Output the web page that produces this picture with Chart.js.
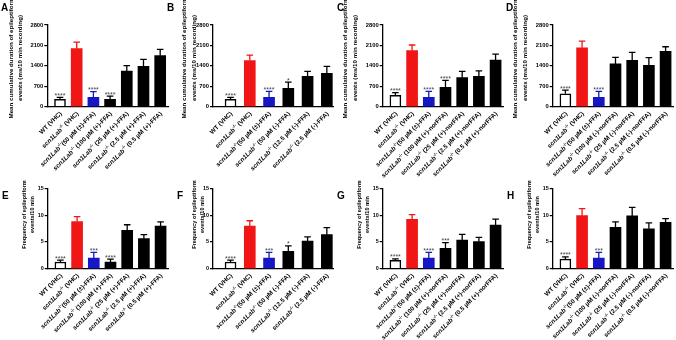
<!DOCTYPE html>
<html>
<head>
<meta charset="utf-8">
<script src="https://cdn.jsdelivr.net/npm/chart.js@4.4.1/dist/chart.umd.min.js"></script>
<style>
  body { margin: 0; background: #fff; }
  #wrap { position: relative; width: 676px; height: 340px; overflow: hidden; }
  #wrap canvas { position: absolute; left: 0; top: 0; }
  .tag { position: absolute; font: bold 10px "Liberation Sans", Arial, sans-serif; line-height: 10px; color: #000; }
</style>
</head>
<body>
<div id="wrap">
  <canvas id="cA" width="676" height="340"></canvas>
  <canvas id="cB" width="676" height="340"></canvas>
  <canvas id="cC" width="676" height="340"></canvas>
  <canvas id="cD" width="676" height="340"></canvas>
  <canvas id="cE" width="676" height="340"></canvas>
  <canvas id="cF" width="676" height="340"></canvas>
  <canvas id="cG" width="676" height="340"></canvas>
  <canvas id="cH" width="676" height="340"></canvas>
  <div class="tag" style="left:1px;top:3px">A</div>
  <div class="tag" style="left:167px;top:3px">B</div>
  <div class="tag" style="left:337px;top:3px">C</div>
  <div class="tag" style="left:506px;top:3px">D</div>
  <div class="tag" style="left:2px;top:191px">E</div>
  <div class="tag" style="left:177px;top:191px">F</div>
  <div class="tag" style="left:337px;top:191px">G</div>
  <div class="tag" style="left:507px;top:191px">H</div>
</div>
<script>
// categories
const groupsPlusFFA = ['WT (VHC)', 'scn1Lab-/- (VHC)', 'scn1Lab-/-(50 µM (±)-FFA)', 'scn1Lab-/- (100 µM (+)-FFA)',
  'scn1Lab-/- (25 µM (+)-FFA)', 'scn1Lab-/- (2.5 µM (+)-FFA)', 'scn1Lab-/- (0.5 µM (+)-FFA)'];
const groupsMinusFFA = ['WT (VHC)', 'scn1Lab-/- (VHC)', 'scn1Lab-/-(50 µM (±)-FFA)', 'scn1Lab-/- (50 µM (-)-FFA)',
  'scn1Lab-/- (12.5 µM (-)-FFA)', 'scn1Lab-/- (2.5 µM (-)-FFA)'];
const groupsPlusNor = ['WT (VHC)', 'scn1Lab-/- (VHC)', 'scn1Lab-/-(50 µM (±)-FFA)', 'scn1Lab-/- (100 µM (+)-norFFA)',
  'scn1Lab-/- (25 µM (+)-norFFA)', 'scn1Lab-/- (2.5 µM (+)-norFFA)', 'scn1Lab-/- (0.5 µM (+)-norFFA)'];
const groupsMinusNor = ['WT (VHC)', 'scn1Lab-/- (VHC)', 'scn1Lab-/-(50 µM (±)-FFA)', 'scn1Lab-/- (100 µM (-)-norFFA)',
  'scn1Lab-/- (25 µM (-)-norFFA)', 'scn1Lab-/- (2.5 µM (-)-norFFA)', 'scn1Lab-/- (0.5 µM (-)-norFFA)'];

// mean cumulative duration (ms / 10 min) and SEM
const durA = [250, 1990, 320, 250, 1220, 1380, 1750];
const semDurA = [70, 225, 195, 115, 185, 240, 215];
const durB = [250, 1580, 320, 630, 1040, 1140];
const semDurB = [70, 185, 205, 215, 170, 240];
const durC = [390, 1920, 320, 665, 995, 1040, 1600];
const semDurC = [90, 195, 205, 240, 215, 185, 205];
const durD = [445, 2020, 320, 1465, 1590, 1415, 1895];
const semDurD = [125, 230, 205, 225, 275, 265, 160];

// frequency of events / 10 min and SEM
const freqE = [1.25, 8.8, 2.0, 1.25, 7.15, 5.6, 7.95];
const semFreqE = [0.35, 0.9, 1.05, 0.55, 1.05, 0.75, 0.8];
const freqF = [1.25, 7.95, 2.0, 3.25, 5.15, 6.35];
const semFreqF = [0.35, 1.0, 1.05, 1.0, 0.8, 1.3];
const freqG = [1.55, 9.2, 2.0, 3.8, 5.35, 5.05, 8.15];
const semFreqG = [0.3, 0.9, 1.05, 1.05, 1.05, 0.8, 1.1];
const freqH = [1.8, 9.9, 2.0, 7.7, 9.85, 7.45, 8.65];
const semFreqH = [0.4, 1.3, 1.05, 1.05, 1.6, 1.1, 0.7];

// significance marks
const starsA = ['****', '', '****', '****', '', '', ''];
const starsB = ['****', '', '****', '*', '', ''];
const starsC = ['****', '', '****', '****', '', '', ''];
const starsD = ['****', '', '****', '', '', '', ''];
const starsE = ['****', '', '***', '****', '', '', ''];
const starsF = ['****', '', '***', '*', '', ''];
const starsG = ['****', '', '****', '***', '', '', ''];
const starsH = ['****', '', '***', '', '', '', ''];

// y axis ticks
const durTicks = [0, 700, 1400, 2100, 2800];
const freqTicks = [0, 5, 10, 15];

const FONT = '"Liberation Sans", Arial, sans-serif';
const RED = '#f01616';
const BLUE = '#1616c4';

function barColors(n) {
  return Array.from({ length: n }, (_, i) => i === 0 ? '#ffffff' : i === 1 ? RED : i === 2 ? BLUE : '#000000');
}
function lineColors(n) {
  return Array.from({ length: n }, (_, i) => i === 1 ? RED : i === 2 ? BLUE : '#000000');
}

// rotated category labels with italic gene name and superscript
const richLabels = {
  id: 'richLabels',
  afterDraw(chart, args, opts) {
    const { ctx, chartArea } = chart;
    const xs = chart.scales.x;
    ctx.save();
    ctx.fillStyle = '#000';
    ctx.textBaseline = 'middle';
    ctx.textAlign = 'left';
    chart.data.labels.forEach((lab, i) => {
      let parts;
      if (lab.startsWith('scn1Lab-/-')) {
        parts = [
          { t: 'scn1Lab', f: 'italic bold ' + opts.size + 'px ' + FONT, dy: 0 },
          { t: '-/-', f: 'bold ' + (opts.size * 0.7) + 'px ' + FONT, dy: -2.2 },
          { t: lab.slice(10), f: 'bold ' + opts.size + 'px ' + FONT, dy: 0 }
        ];
      } else {
        parts = [{ t: lab, f: 'bold ' + opts.size + 'px ' + FONT, dy: 0 }];
      }
      let total = 0;
      parts.forEach(p => { ctx.font = p.f; p.w = ctx.measureText(p.t).width; total += p.w; });
      ctx.save();
      ctx.translate(xs.getPixelForValue(i) + 1, chartArea.bottom + 6);
      ctx.rotate(-Math.PI / 4);
      let cx = -total;
      parts.forEach(p => { ctx.font = p.f; ctx.fillText(p.t, cx, p.dy); cx += p.w; });
      ctx.restore();
    });
    ctx.restore();
  }
};

// upper SEM bars and significance stars
const errorBars = {
  id: 'errorBars',
  afterDatasetsDraw(chart, args, opts) {
    const { ctx } = chart;
    const ys = chart.scales.y;
    const ds = chart.data.datasets[0];
    const meta = chart.getDatasetMeta(0);
    ctx.save();
    meta.data.forEach((bar, i) => {
      const top = ys.getPixelForValue(ds.data[i].y + opts.sem[i]);
      const half = bar.width * 0.3;
      ctx.strokeStyle = opts.colors[i];
      ctx.lineWidth = 1.3;
      ctx.beginPath();
      ctx.moveTo(bar.x, bar.y);
      ctx.lineTo(bar.x, top);
      ctx.moveTo(bar.x - half, top);
      ctx.lineTo(bar.x + half, top);
      ctx.stroke();
      if (opts.stars[i]) {
        ctx.fillStyle = '#444';
        ctx.font = '7px ' + FONT;
        ctx.textAlign = 'center';
        ctx.textBaseline = 'alphabetic';
        ctx.fillText(opts.stars[i], bar.x, top + 0.5);
      }
    });
    ctx.restore();
  }
};

// two-line rotated y axis title
const yTitle = {
  id: 'yTitle',
  afterDraw(chart, args, opts) {
    const { ctx, chartArea } = chart;
    ctx.save();
    ctx.fillStyle = '#000';
    ctx.font = 'bold ' + opts.size + 'px ' + FONT;
    ctx.textAlign = 'center';
    ctx.textBaseline = 'middle';
    opts.lines.forEach((line, k) => {
      ctx.save();
      ctx.translate(chartArea.left + opts.dx[k], opts.cy);
      ctx.rotate(-Math.PI / 2);
      ctx.fillText(line, 0, 0);
      ctx.restore();
    });
    ctx.restore();
  }
};

function makePanel(id, labels, values, sem, stars, box, yCfg) {
  const n = labels.length;
  const yW = 30;
  new Chart(document.getElementById(id), {
    type: 'bar',
    data: {
      labels: labels,
      datasets: [{
        data: values.map((v, i) => ({ x: i, y: v })),
        backgroundColor: barColors(n),
        borderColor: '#000',
        borderWidth: values.map((v, i) => i === 0 ? 1.5 : 0),
        barThickness: 11
      }]
    },
    options: {
      responsive: false,
      animation: false,
      devicePixelRatio: 1,
      layout: {
        autoPadding: false,
        padding: { left: box.left - yW, right: 676 - box.right, top: box.top, bottom: 340 - box.bottom }
      },
      plugins: {
        legend: { display: false },
        tooltip: { enabled: false },
        richLabels: { size: yCfg.labelSize },
        errorBars: { sem: sem, stars: stars, colors: lineColors(n) },
        yTitle: { lines: yCfg.title, dx: box.titleDx, cy: yCfg.titleY, size: yCfg.titleSize }
      },
      scales: {
        x: {
          type: 'linear',
          offset: false,
          min: box.xmin,
          max: box.xmax,
          ticks: { display: false },
          grid: { display: false },
          border: { display: true, color: '#000', width: 1.3 },
          afterFit: s => { s.height = 0; }
        },
        y: {
          min: 0,
          max: yCfg.ticks[yCfg.ticks.length - 1],
          afterBuildTicks: s => { s.ticks = yCfg.ticks.map(v => ({ value: v })); },
          ticks: {
            color: '#000',
            font: { family: FONT, size: yCfg.tickSize, weight: 'bold' },
            padding: 1,
            callback: v => String(v)
          },
          grid: { drawOnChartArea: false, drawTicks: true, tickLength: 3, color: '#000', lineWidth: 1.2 },
          border: { display: true, color: '#000', width: 1.3 },
          afterFit: s => { s.width = yW; }
        }
      }
    },
    plugins: [errorBars, richLabels, yTitle]
  });
}

const durAxis = {
  ticks: durTicks, tickSize: 5.8, labelSize: 6.3, titleSize: 6.2, titleY: 58,
  title: ['Mean cumulative duration of epileptiform', 'events (ms/10 min recording)']
};
const freqAxis = {
  ticks: freqTicks, tickSize: 5.4, labelSize: 6.3, titleSize: 5.6, titleY: 214.5,
  title: ['Frequency of epileptiform', 'events/10 min']
};

const seven = { xmin: -0.76, xmax: 6.48 };
const six = { xmin: -0.91, xmax: 5.33 };
const top1 = { top: 25, bottom: 106.7 };
const top2 = { top: 188.3, bottom: 268.7 };

makePanel('cA', groupsPlusFFA, durA, semDurA, starsA, { left: 47.3, right: 168.2, ...top1, ...seven, titleDx: [-36.5, -26.7] }, durAxis);
makePanel('cB', groupsMinusFFA, durB, semDurB, starsB, { left: 213, right: 333.2, ...top1, ...six, titleDx: [-28.5, -18.5] }, durAxis);
makePanel('cC', groupsPlusNor, durC, semDurC, starsC, { left: 382.7, right: 503.6, ...top1, ...seven, titleDx: [-37, -27] }, durAxis);
makePanel('cD', groupsMinusNor, durD, semDurD, starsD, { left: 552.7, right: 673.6, ...top1, ...seven, titleDx: [-37.5, -27.5] }, durAxis);

makePanel('cE', groupsPlusFFA, freqE, semFreqE, starsE, { left: 47.7, right: 168.6, ...top2, ...seven, titleDx: [-23.5, -15.3] }, freqAxis);
makePanel('cF', groupsMinusFFA, freqF, semFreqF, starsF, { left: 213, right: 333.2, ...top2, ...six, titleDx: [-18.5, -10.5] }, freqAxis);
makePanel('cG', groupsPlusNor, freqG, semFreqG, starsG, { left: 382.7, right: 503.6, ...top2, ...seven, titleDx: [-23.5, -15.3] }, freqAxis);
makePanel('cH', groupsMinusNor, freqH, semFreqH, starsH, { left: 552.7, right: 673.6, ...top2, ...seven, titleDx: [-23.5, -15.3] }, freqAxis);
</script>
</body>
</html>
